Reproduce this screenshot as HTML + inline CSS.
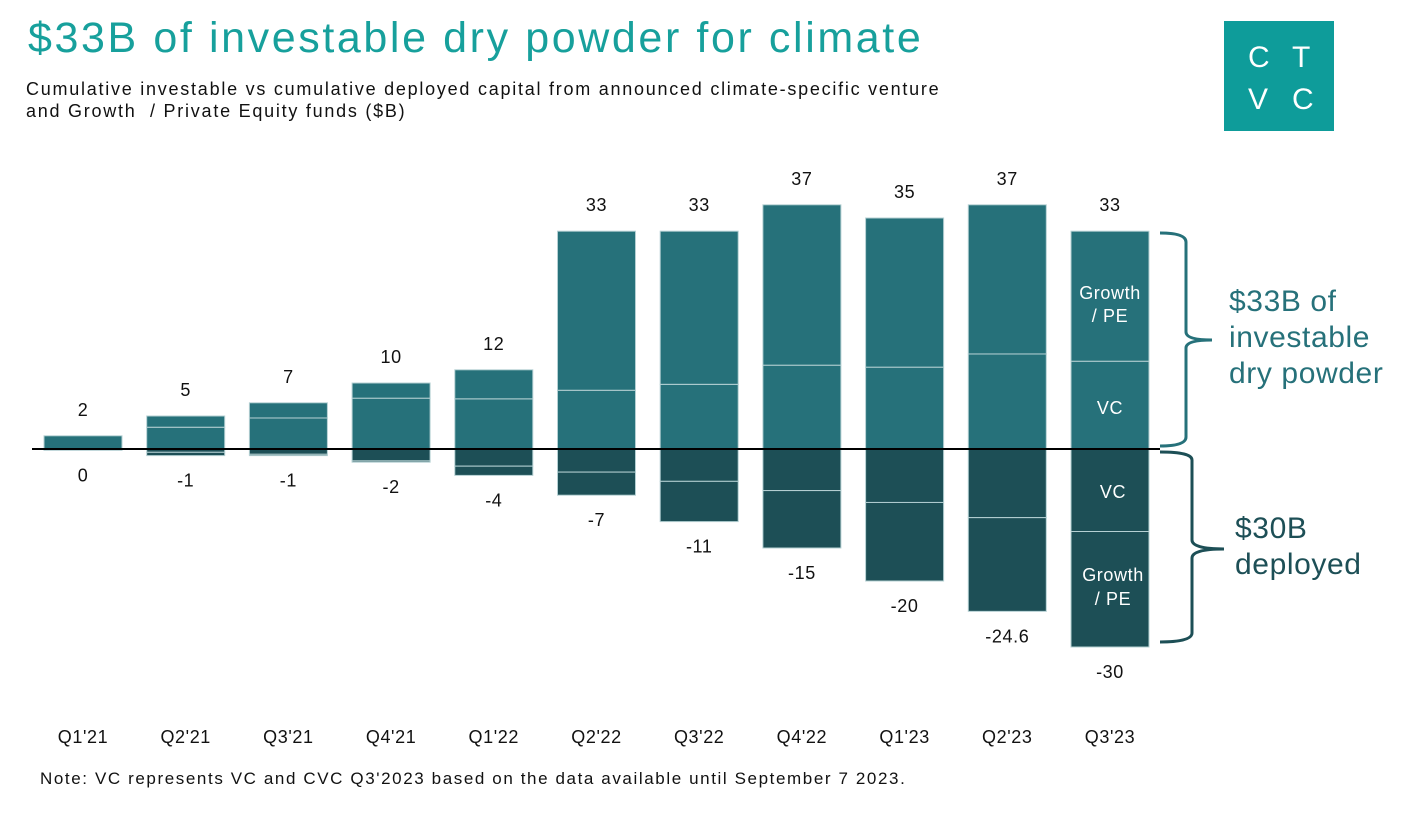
<!DOCTYPE html>
<html><head><meta charset="utf-8"><style>
body{margin:0;width:1414px;height:820px;background:#fff;font-family:"Liberation Sans",sans-serif;overflow:hidden;position:relative}
.t{position:absolute;white-space:nowrap}
</style></head><body>
<div class="t" style="left:28px;top:14px;font-size:43px;letter-spacing:2.6px;color:#17a09c;font-weight:500">$33B of investable dry powder for climate</div>
<div class="t" style="left:26px;top:78px;font-size:18px;letter-spacing:1.75px;color:#111;line-height:22px">Cumulative investable vs cumulative deployed capital from announced climate-specific venture<br>and Growth&nbsp; / Private Equity funds ($B)</div>
<div style="position:absolute;left:1224px;top:21px;width:110px;height:110px;background:#0e9c9a;color:#fff;font-size:30px;letter-spacing:0">
<span class="t" style="left:24px;top:20px">C</span><span class="t" style="left:68px;top:20px">T</span>
<span class="t" style="left:24px;top:62px">V</span><span class="t" style="left:68px;top:62px">C</span></div>
<svg id="chart" width="1414" height="820" style="position:absolute;left:0;top:0"></svg>
<div class="t" style="left:40px;top:769px;font-size:17px;letter-spacing:1.6px;color:#111">Note: VC represents VC and CVC Q3'2023 based on the data available until September 7 2023.</div>
<script>
const categories=["Q1'21","Q2'21","Q3'21","Q4'21","Q1'22","Q2'22","Q3'22","Q4'22","Q1'23","Q2'23","Q3'23"];
const investableTotal=[2,5,7,10,12,33,33,37,35,37,33];
const investableVC=[2,3.3,4.7,7.7,7.6,8.9,9.8,12.7,12.4,14.4,13.3];
const deployedTotal=[0,-1,-1,-2,-4,-7,-11,-15,-20,-24.6,-30];
const deployedVC=[-0.2,-0.5,-0.8,-1.8,-2.6,-3.5,-4.9,-6.3,-8.1,-10.4,-12.5];
const posLabels=["2","5","7","10","12","33","33","37","35","37","33"];
const negLabels=["0","-1","-1","-2","-4","-7","-11","-15","-20","-24.6","-30"];
const NS="http://www.w3.org/2000/svg",svg=document.getElementById('chart');
const y0=449,k=6.6;
const y=v=>y0-v*k;
const xc=i=>83+i*102.7;
const bw=78;
function mk(t,a){const e=document.createElementNS(NS,t);for(const n in a)e.setAttribute(n,a[n]);svg.appendChild(e);return e;}
function rect(x1,ya,yb,fill){return mk('rect',{x:x1,y:Math.min(ya,yb),width:bw,height:Math.max(Math.abs(yb-ya),0.5),fill:fill,stroke:'#b5d0d3','stroke-width':1});}
function txt(x,yy,s,size,fill){const e=mk('text',{x:x,y:yy,'text-anchor':'middle','font-size':size,fill:fill,'font-family':'Liberation Sans, sans-serif','letter-spacing':0.6});e.textContent=s;return e;}
categories.forEach((c,i)=>{
  const x1=xc(i)-bw/2;
  let r=rect(x1,y(investableVC[i]),y(0),'#26717a');
  
  
  if(investableTotal[i]>investableVC[i]){r=rect(x1,y(investableTotal[i]),y(investableVC[i]),'#26717a');
  
  }
  r=rect(x1,y(0),y(deployedVC[i]),'#1d4f56');
  
  
  if(deployedTotal[i]<deployedVC[i]){r=rect(x1,y(deployedVC[i]),y(deployedTotal[i]),'#1d4f56');
  
  }
  let t=txt(xc(i),y(investableTotal[i])-20,posLabels[i],18,'#111');
  
  
  t=txt(xc(i),y(Math.min(deployedTotal[i],deployedVC[i]))+31,negLabels[i],18,'#111');
  
  
  t=txt(xc(i),743,c,18,'#111');
  
  
});
const ax=mk('line',{x1:32,x2:1160,y1:y0,y2:y0,stroke:'#000','stroke-width':2});


const L=categories.length-1,xl=xc(L);
[["Growth",299],["/ PE",322],["VC",414]].forEach(a=>{const t=txt(xl,a[1],a[0],18,'#fff');});
[["VC",498],["Growth",581],["/ PE",605]].forEach(a=>{const t=txt(xl+3,a[1],a[0],18,'#fff');});
let b=mk('path',{d:'M1160 233 Q1186 233 1186 242 L1186 332 Q1186 340 1212 340 Q1186 340 1186 348 L1186 437 Q1186 446 1160 446',fill:'none',stroke:'#26717a','stroke-width':3});


b=mk('path',{d:'M1160 452 Q1192 452 1192 460 L1192 540 Q1192 549 1224 549 Q1192 549 1192 558 L1192 633 Q1192 642 1160 642',fill:'none',stroke:'#1d4f56','stroke-width':3});


</script>
<div class="t" style="left:1229px;top:284px;font-size:30px;letter-spacing:0.6px;line-height:36px;color:#26717a;font-weight:500">$33B of<br>investable<br>dry powder</div>
<div class="t" style="left:1235px;top:511px;font-size:30px;letter-spacing:0.6px;line-height:36px;color:#1d4f56;font-weight:500">$30B<br>deployed</div>
</body></html>
